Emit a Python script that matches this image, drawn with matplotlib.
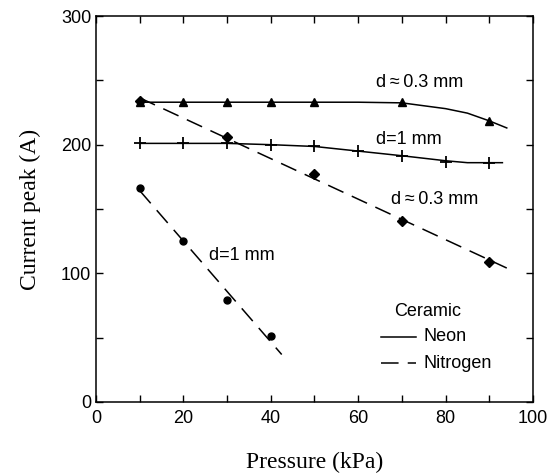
import numpy as np
import matplotlib
matplotlib.use("Agg")
import matplotlib.pyplot as plt
from matplotlib.ticker import MultipleLocator

# Neon, d~0.3 mm (triangles)
ne03_x = [10, 20, 30, 40, 50, 70, 90]
ne03_y = [233, 233, 233, 233, 233, 233, 218.5]
ne03_line_x = [10, 20, 30, 40, 50, 60, 70, 80, 85, 90, 94]
ne03_line_y = [233, 233, 233, 233, 233, 233, 232.5, 228, 224.5, 218.5, 213]

# Neon, d=1 mm (plus)
ne1_x = [10, 20, 30, 40, 50, 60, 70, 80, 90]
ne1_y = [201, 201, 201, 200, 198.6, 195, 191.4, 186.5, 186]
ne1_line_x = [10, 20, 30, 40, 50, 60, 70, 80, 85, 90, 93]
ne1_line_y = [201, 201, 201, 200, 198.6, 195, 191.4, 187.5, 186, 186, 186]

# Nitrogen, d~0.3 mm (diamonds)
n03_x = [10, 30, 50, 70, 90]
n03_y = [234, 206, 177, 141, 109]
n03_fit_range = [10, 94]

# Nitrogen, d=1 mm (circles)
n1_x = [10, 20, 30, 40]
n1_y = [166.5, 125, 79.5, 51]
n1_fit_range = [10, 42.5]

plt.rcParams['font.family'] = ['Liberation Sans', 'DejaVu Sans']

fig = plt.figure(figsize=(5.53, 4.75), dpi=100)
ax = fig.add_axes([0.1736, 0.1537, 0.7902, 0.8126])

lw = 1.1
dash = (0, (11, 6))

ax.plot(ne03_line_x, ne03_line_y, color='black', lw=lw)
ax.plot(ne03_x, ne03_y, linestyle='none', marker='^', color='black', ms=6)

ax.plot(ne1_line_x, ne1_line_y, color='black', lw=lw)
ax.plot(ne1_x, ne1_y, linestyle='none', marker='+', color='black', ms=9, mew=1.3)

c = np.polyfit(n03_x, n03_y, 1)
fx = np.array(n03_fit_range)
ax.plot(fx, np.polyval(c, fx), color='black', lw=lw, linestyle=dash)
ax.plot(n03_x, n03_y, linestyle='none', marker='D', color='black', ms=5.5)

c = np.polyfit(n1_x, n1_y, 1)
fx = np.array(n1_fit_range)
ax.plot(fx, np.polyval(c, fx), color='black', lw=lw, linestyle=dash)
ax.plot(n1_x, n1_y, linestyle='none', marker='o', color='black', ms=5)

fs = 13
ax.text(74, 248, 'd\u2009\u2248\u20090.3 mm', ha='center', va='center', fontsize=fs)
ax.text(71.6, 204, 'd=1 mm', ha='center', va='center', fontsize=fs)
ax.text(77.6, 157.5, 'd\u2009\u2248\u20090.3 mm', ha='center', va='center', fontsize=fs)
ax.text(33.4, 114, 'd=1 mm', ha='center', va='center', fontsize=fs)

# legend
ax.text(76, 70, 'Ceramic', ha='center', va='center', fontsize=fs)
ax.plot([65.2, 73.3], [50.7, 50.7], color='black', lw=lw)
ax.text(75.0, 50.7, 'Neon', ha='left', va='center', fontsize=fs)
ax.plot([65.2, 73.3], [30, 30], color='black', lw=lw, linestyle=(0, (11.5, 6)))
ax.text(75.0, 30, 'Nitrogen', ha='left', va='center', fontsize=fs)

ax.set_xlim(0, 100)
ax.set_ylim(0, 300)
ax.xaxis.set_major_locator(MultipleLocator(20))
ax.xaxis.set_minor_locator(MultipleLocator(10))
ax.yaxis.set_major_locator(MultipleLocator(100))
ax.yaxis.set_minor_locator(MultipleLocator(50))
ax.tick_params(which='both', direction='in', top=True, right=True, length=5, width=1, labelsize=13)
ax.tick_params(axis='x', pad=6)
for s in ax.spines.values():
    s.set_linewidth(1.1)

ax.set_xlabel('Pressure (kPa)', family='Liberation Serif', fontsize=17, labelpad=18)
ax.set_ylabel('Current peak (A)', family='Liberation Serif', fontsize=17, labelpad=14)

fig.savefig('out.png', dpi=100)
